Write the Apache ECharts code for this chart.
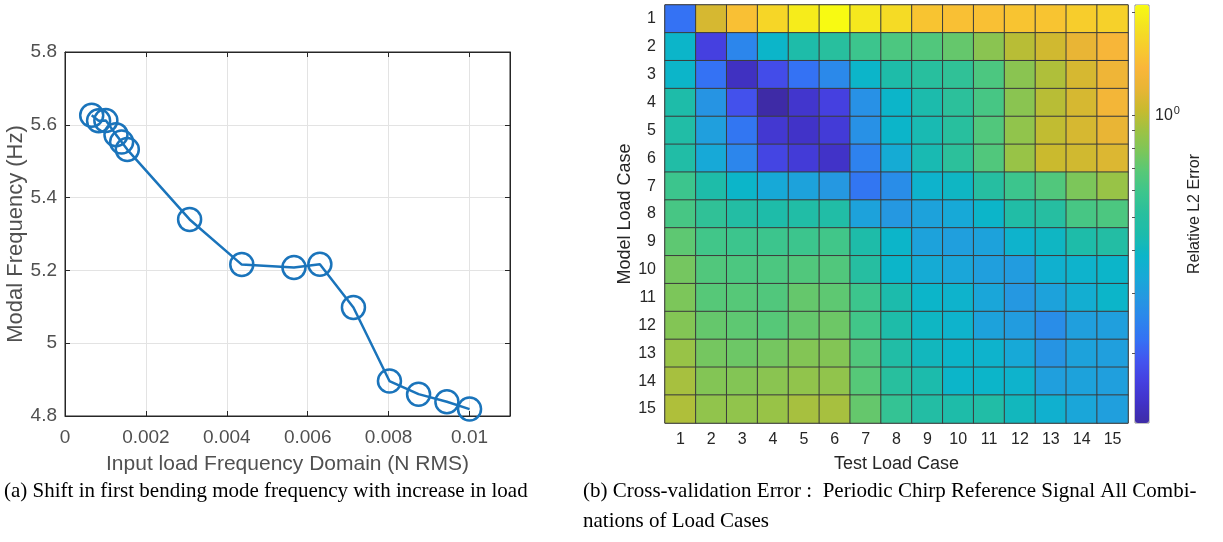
<!DOCTYPE html>
<html>
<head>
<meta charset="utf-8">
<script src="https://cdn.jsdelivr.net/npm/echarts@6/dist/echarts.min.js"></script>
<style>
html,body{margin:0;padding:0;background:#fff;}
#chart{width:1223px;height:542px;}
</style>
</head>
<body>
<div id="chart"></div>
<script>
// ---- (a) modal frequency vs input load ----
const loadRms = [0.00066, 0.00083, 0.00101, 0.00126, 0.0014, 0.00154, 0.00308, 0.00437, 0.00566, 0.0063, 0.00713, 0.00802, 0.00874, 0.00944, 0.0100];
const modalFreq = [5.626, 5.611, 5.612, 5.573, 5.553, 5.532, 5.340, 5.216, 5.208, 5.217, 5.098, 4.896, 4.860, 4.839, 4.819];

// ---- (b) cross-validation relative L2 error, rows = model load case, cols = test load case ----
const loadCases = ['1','2','3','4','5','6','7','8','9','10','11','12','13','14','15'];
const model1  = [0.220, 1.10, 1.46, 1.68, 1.93, 2.10, 1.88, 1.73, 1.50, 1.46, 1.46, 1.50, 1.50, 1.58, 1.63];
const model2  = [0.387, 0.166, 0.253, 0.387, 0.458, 0.513, 0.590, 0.643, 0.661, 0.719, 0.828, 0.981, 1.07, 1.20, 1.34];
const model3  = [0.387, 0.220, 0.140, 0.180, 0.220, 0.260, 0.387, 0.458, 0.513, 0.542, 0.643, 0.828, 0.954, 1.10, 1.26];
const model4  = [0.458, 0.283, 0.186, 0.125, 0.148, 0.166, 0.275, 0.387, 0.445, 0.527, 0.625, 0.828, 0.981, 1.10, 1.30];
const model5  = [0.471, 0.308, 0.226, 0.152, 0.144, 0.157, 0.275, 0.387, 0.433, 0.513, 0.661, 0.852, 1.01, 1.10, 1.20];
const model6  = [0.471, 0.336, 0.253, 0.171, 0.157, 0.144, 0.246, 0.345, 0.433, 0.527, 0.661, 0.877, 1.04, 1.07, 1.13];
const model7  = [0.590, 0.458, 0.387, 0.336, 0.317, 0.291, 0.226, 0.268, 0.376, 0.398, 0.498, 0.590, 0.661, 0.783, 0.877];
const model8  = [0.625, 0.542, 0.484, 0.458, 0.471, 0.471, 0.317, 0.291, 0.317, 0.336, 0.387, 0.471, 0.498, 0.625, 0.643];
const model9  = [0.699, 0.607, 0.590, 0.590, 0.590, 0.607, 0.458, 0.387, 0.317, 0.308, 0.317, 0.376, 0.398, 0.458, 0.484];
const model10 = [0.761, 0.661, 0.643, 0.643, 0.661, 0.661, 0.498, 0.387, 0.345, 0.326, 0.308, 0.300, 0.365, 0.376, 0.387];
const model11 = [0.783, 0.680, 0.680, 0.661, 0.719, 0.699, 0.590, 0.445, 0.387, 0.376, 0.326, 0.291, 0.317, 0.355, 0.387];
const model12 = [0.805, 0.719, 0.699, 0.680, 0.719, 0.740, 0.607, 0.458, 0.398, 0.376, 0.317, 0.300, 0.268, 0.308, 0.308];
const model13 = [0.877, 0.761, 0.740, 0.761, 0.805, 0.805, 0.661, 0.471, 0.409, 0.387, 0.376, 0.336, 0.283, 0.317, 0.308];
const model14 = [0.927, 0.805, 0.805, 0.828, 0.852, 0.852, 0.680, 0.513, 0.445, 0.387, 0.387, 0.376, 0.308, 0.317, 0.308];
const model15 = [0.954, 0.852, 0.852, 0.877, 0.927, 0.927, 0.719, 0.558, 0.484, 0.458, 0.471, 0.409, 0.365, 0.326, 0.308];

// colour bar range (log scale) and its tick values
const cbarMin = 0.125;
const cbarMax = 2.1;
const cbarTicks = [0.2, 0.3, 0.4, 0.5, 0.6, 0.7, 0.8, 0.9, 1, 2];
const cbarLabelTicks = [1];

const parula = ['#3e2ba6','#4133c8','#4540e0','#4255ef','#3472f4','#2c86ec','#2598e1','#17a9d7','#0cb5c9','#1cbbac',
  '#28bf9e','#3cc58d','#56c878','#7cc65a','#9ec243','#c9ba2e','#e8b535','#fab63a','#f7cd2c','#f4e321','#f8fa12'];

const rows = [model1, model2, model3, model4, model5, model6, model7, model8, model9, model10, model11, model12, model13, model14, model15];
const heatData = [];
rows.forEach((row, yi) => row.forEach((v, xi) => heatData.push([xi, yi, v, Math.log10(v)])));
const lineData = loadRms.map((x, i) => [x, modalFreq[i]]);

const sans = "'Liberation Sans', Arial, Helvetica, sans-serif";
const serif = "'Liberation Serif', 'Times New Roman', serif";
const chart = echarts.init(document.getElementById('chart'), null, {renderer: 'canvas'});

const fmt = (v, d) => String(+v.toFixed(d));
const boxLine = {show: true, onZero: false, lineStyle: {color: '#262626', width: 1}};
const inTick = {show: true, inside: true, length: 5, lineStyle: {color: '#262626', width: 1}};

chart.setOption({
  animation: false,
  backgroundColor: '#fff',
  grid: [
    {left: 65, top: 52, width: 445, height: 364, show: true, borderColor: '#262626', borderWidth: 1, backgroundColor: '#fff'},
    {left: 665, top: 5, width: 463, height: 418, show: true, borderColor: '#404040', borderWidth: 1},
    {left: 1135, top: 5, width: 14, height: 418, show: true, borderColor: '#8a8a8a', borderWidth: 1}
  ],
  xAxis: [
    {type: 'value', gridIndex: 0, min: 0, max: 0.011, interval: 0.002,
      axisLine: boxLine, axisTick: inTick,
      axisLabel: {fontFamily: sans, fontSize: 19, color: '#505050', margin: 12, showMaxLabel: false,
        formatter: v => v === 0 ? '0' : fmt(v, 3)},
      splitLine: {show: true, lineStyle: {color: '#e3e3e3', width: 1}},
      name: 'Input load Frequency Domain (N RMS)', nameLocation: 'middle', nameGap: 38,
      nameTextStyle: {fontFamily: sans, fontSize: 21, color: '#505050'}},
    {type: 'value', gridIndex: 0, position: 'top', min: 0, max: 0.011, interval: 0.002,
      axisLine: boxLine, axisTick: inTick,
      axisLabel: {show: false}, splitLine: {show: false}},
    {type: 'category', gridIndex: 1, data: loadCases,
      axisLine: {show: false}, axisTick: {show: false},
      axisLabel: {fontFamily: sans, fontSize: 16, color: '#262626', margin: 9},
      splitLine: {show: false},
      name: 'Test Load Case', nameLocation: 'middle', nameGap: 32,
      nameTextStyle: {fontFamily: sans, fontSize: 18, color: '#262626'}},
    {type: 'value', gridIndex: 2, show: false, min: 0, max: 1}
  ],
  yAxis: [
    {type: 'value', gridIndex: 0, min: 4.8, max: 5.8, interval: 0.2,
      axisLine: boxLine, axisTick: inTick,
      axisLabel: {fontFamily: sans, fontSize: 19, color: '#505050', margin: 8, formatter: v => fmt(v, 1)},
      splitLine: {show: true, lineStyle: {color: '#e3e3e3', width: 1}},
      name: 'Modal Frequency (Hz)', nameLocation: 'middle', nameGap: 35,
      nameTextStyle: {fontFamily: sans, fontSize: 22, color: '#505050'}},
    {type: 'value', gridIndex: 0, position: 'right', min: 4.8, max: 5.8, interval: 0.2,
      axisLine: boxLine, axisTick: inTick,
      axisLabel: {show: false}, splitLine: {show: false}},
    {type: 'category', gridIndex: 1, data: loadCases, inverse: true,
      axisLine: {show: false}, axisTick: {show: false},
      axisLabel: {fontFamily: sans, fontSize: 16, color: '#262626', margin: 9},
      splitLine: {show: false},
      name: 'Model Load Case', nameLocation: 'middle', nameGap: 31,
      nameTextStyle: {fontFamily: sans, fontSize: 18, color: '#262626'}},
    {type: 'value', gridIndex: 2, position: 'right', min: Math.log10(cbarMin), max: Math.log10(cbarMax),
      axisLine: {show: false},
      axisTick: {show: true, inside: true, length: 3, lineStyle: {color: '#555'},
        customValues: cbarTicks.map(v => Math.log10(v))},
      axisLabel: {show: true, margin: 6, customValues: cbarLabelTicks.map(v => Math.log10(v)),
        formatter: v => '{b|10}{s|' + Math.round(v) + '}',
        rich: {b: {fontFamily: sans, fontSize: 16, color: '#262626', verticalAlign: 'bottom', lineHeight: 18},
               s: {fontFamily: sans, fontSize: 11, color: '#262626', verticalAlign: 'top', lineHeight: 18, padding: [0, 0, 10, 1]}}},
      splitLine: {show: false},
      name: 'Relative L2 Error', nameLocation: 'middle', nameGap: 38, nameRotate: 90,
      nameTextStyle: {fontFamily: sans, fontSize: 16, color: '#262626'}}
  ],
  visualMap: {
    type: 'continuous', seriesIndex: 1, dimension: 3,
    min: Math.log10(cbarMin), max: Math.log10(cbarMax),
    calculable: false, left: 1135, top: 5, itemWidth: 14, itemHeight: 418, padding: 0,
    text: null, showLabel: false,
    inRange: {color: parula}
  },
  series: [
    {type: 'line', xAxisIndex: 0, yAxisIndex: 0, data: lineData,
      symbol: 'circle', symbolSize: 23,
      lineStyle: {color: '#1a74bb', width: 2.5},
      itemStyle: {color: 'rgba(0,0,0,0)', borderColor: '#1a74bb', borderWidth: 2.5}},
    {type: 'heatmap', xAxisIndex: 2, yAxisIndex: 2, data: heatData,
      itemStyle: {borderColor: '#3c3c3c', borderWidth: 1},
      emphasis: {disabled: true}}
  ],
  graphic: [
    {type: 'text', left: 4, top: 481, style: {text: '(a) Shift in first bending mode frequency with increase in load', fontFamily: serif, fontSize: 21, fill: '#000'}},
    {type: 'text', left: 583, top: 481, style: {text: '(b) Cross-validation Error :  Periodic Chirp Reference Signal All Combi-', fontFamily: serif, fontSize: 21, fill: '#000'}},
    {type: 'text', left: 583, top: 511, style: {text: 'nations of Load Cases', fontFamily: serif, fontSize: 21, fill: '#000'}}
  ]
});
</script>
</body>
</html>
